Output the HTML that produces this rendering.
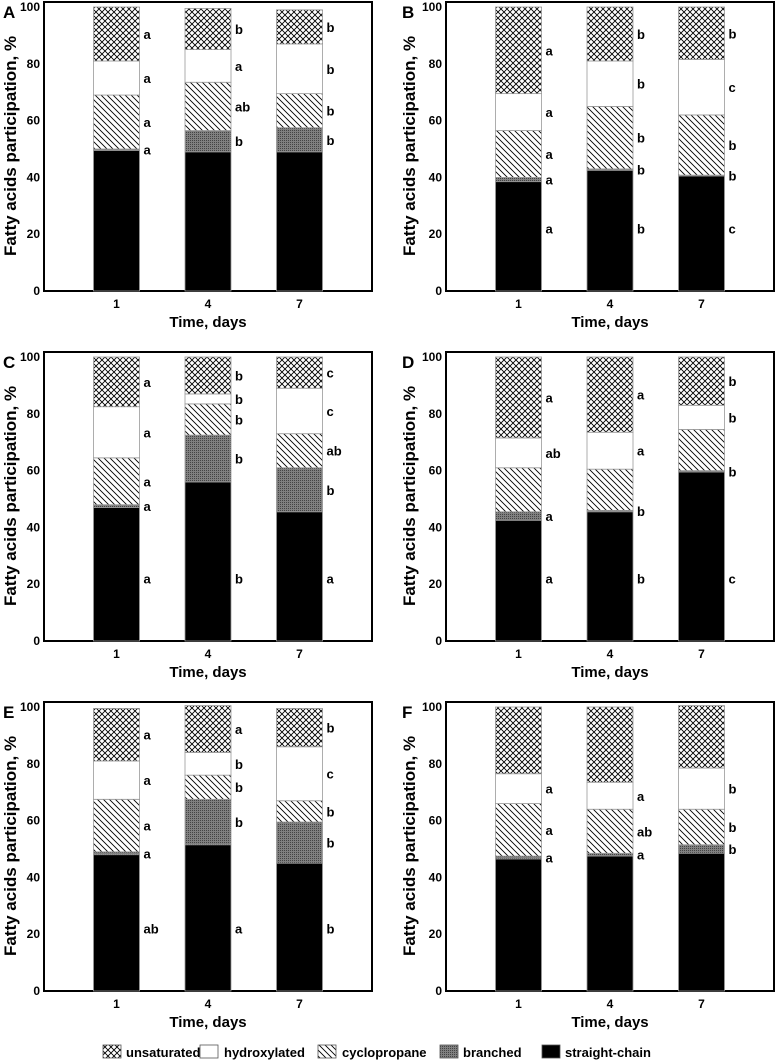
<!DOCTYPE html>
<html><head><meta charset="utf-8"><style>
html,body{margin:0;padding:0;background:#fff;}
svg{display:block;font-family:"Liberation Sans",Arial,sans-serif;font-weight:bold;}
</style></head><body>
<svg id="chart" width="775" height="1062" viewBox="0 0 775 1062" xmlns="http://www.w3.org/2000/svg">
<defs>
<pattern id="pCross" width="6" height="6" patternUnits="userSpaceOnUse">
<rect width="6" height="6" fill="#fff"/>
<path d="M0,0L6,6M6,0L0,6" stroke="#000" stroke-width="0.9"/>
</pattern>
<pattern id="pDiag" width="6" height="6" patternUnits="userSpaceOnUse">
<rect width="6" height="6" fill="#fff"/>
<path d="M0,0L6,6M-3,3L3,9M3,-3L9,3" stroke="#000" stroke-width="0.9"/>
</pattern>
<pattern id="pBranch" width="2" height="2" patternUnits="userSpaceOnUse">
<rect width="2" height="2" fill="#808080"/>
<rect width="1" height="1" fill="#444"/>
</pattern>
</defs>
<g id="panels"></g>
<g id="legend"></g>
</svg>
<script>
// Data: segment percentages per bar (days 1, 4, 7), per panel
const categories = ['1', '4', '7'];
const panelNames = ['A', 'B', 'C', 'D', 'E', 'F'];
const seriesNames = ['straight-chain', 'branched', 'cyclopropane', 'hydroxylated', 'unsaturated'];
const yTicks = [0, 20, 40, 60, 80, 100];

const straightA = [49.5, 49, 49];   const branchedA = [0.5, 7.5, 8.5];  const cycloA = [19, 17, 12];     const hydroxyA = [12, 11.5, 17.5]; const unsatA = [19, 14.5, 12];
const straightB = [38.5, 42.5, 40.5]; const branchedB = [1.5, 0.5, 0.3]; const cycloB = [16.5, 22, 21.2]; const hydroxyB = [13, 16, 19.5]; const unsatB = [30.5, 19, 18.5];
const straightC = [47, 56, 45.5];   const branchedC = [1, 16.5, 15.5];  const cycloC = [16.5, 11, 12];   const hydroxyC = [18, 3.5, 16];   const unsatC = [17.5, 13, 11];
const straightD = [42.5, 45.5, 59.5]; const branchedD = [3, 0.5, 0.5];  const cycloD = [15.5, 14.5, 14.5]; const hydroxyD = [10.5, 13, 8.5]; const unsatD = [28.5, 26.5, 17];
const straightE = [48, 51.5, 45];   const branchedE = [1, 16, 14.5];    const cycloE = [18.5, 8.5, 7.5]; const hydroxyE = [13.5, 8, 19];  const unsatE = [18.5, 16.5, 13.5];
const straightF = [46.5, 47.5, 48.5]; const branchedF = [1, 1, 3];      const cycloF = [18.5, 15.5, 12.5]; const hydroxyF = [10.5, 9.5, 14.5]; const unsatF = [23.5, 26.5, 22];

// Significance letters [bar][segment: straight, branched, cyclo, hydroxy, unsat]
const lettersA = [['', 'a', 'a', 'a', 'a'], ['', 'b', 'ab', 'a', 'b'], ['', 'b', 'b', 'b', 'b']];
const lettersB = [['a', 'a', 'a', 'a', 'a'], ['b', 'b', 'b', 'b', 'b'], ['c', 'b', 'b', 'c', 'b']];
const lettersC = [['a', 'a', 'a', 'a', 'a'], ['b', 'b', 'b', 'b', 'b'], ['a', 'b', 'ab', 'c', 'c']];
const lettersD = [['a', 'a', '', 'ab', 'a'], ['b', 'b', '', 'a', 'a'], ['c', 'b', '', 'b', 'b']];
const lettersE = [['ab', 'a', 'a', 'a', 'a'], ['a', 'b', 'b', 'b', 'a'], ['b', 'b', 'b', 'c', 'b']];
const lettersF = [['', 'a', 'a', 'a', ''], ['', 'a', 'ab', 'a', ''], ['', 'b', 'b', 'b', '']];

const panelData = [
  [straightA, branchedA, cycloA, hydroxyA, unsatA],
  [straightB, branchedB, cycloB, hydroxyB, unsatB],
  [straightC, branchedC, cycloC, hydroxyC, unsatC],
  [straightD, branchedD, cycloD, hydroxyD, unsatD],
  [straightE, branchedE, cycloE, hydroxyE, unsatE],
  [straightF, branchedF, cycloF, hydroxyF, unsatF]
];
const panelLetters = [lettersA, lettersB, lettersC, lettersD, lettersE, lettersF];

const NS = 'http://www.w3.org/2000/svg';
const fills = ['#000', 'url(#pBranch)', 'url(#pDiag)', '#fff', 'url(#pCross)'];
function mk(tag, attrs, parent) {
  const e = document.createElementNS(NS, tag);
  for (const k in attrs) e.setAttribute(k, attrs[k]);
  parent.appendChild(e);
  return e;
}
const root = document.getElementById('panels');
const zeroYs = [291, 641, 991];
const frameLefts = [44, 446];
const frameRights = [372, 774];

panelData.forEach((series, p) => {
  const row = Math.floor(p / 2), col = p % 2;
  const y0 = zeroYs[row], fl = frameLefts[col], fr = frameRights[col];
  const yScale = v => y0 - v * 2.84;
  const xCenter = i => fl + 72.5 + i * 91.5;
  const bw = 46;
  const g = mk('g', {}, root);
  
  
  const fr_ = mk('rect', {x: fl, y: y0 - 289, width: fr - fl, height: 289, fill: 'none', stroke: '#000', 'stroke-width': 2}, g);
  
  
  const pl = mk('text', {x: col ? 402 : 3, y: y0 - 273, 'font-size': 17}, g);
  pl.textContent = panelNames[p];
  
  
  yTicks.forEach(t => {
    const tl = mk('text', {x: fl - 4, y: yScale(t) + 4, 'font-size': 12, 'text-anchor': 'end'}, g);
    tl.textContent = t;
    
    
  });
  const cy = yScale(50) - 3;
  const yt = mk('text', {x: 0, y: 0, 'font-size': 17, 'text-anchor': 'middle', transform: 'translate(' + (col ? 415 : 16) + ',' + cy + ') rotate(-90)'}, g);
  yt.textContent = 'Fatty acids participation, %';
  
  
  categories.forEach((c, i) => {
    const xl = mk('text', {x: xCenter(i), y: y0 + 17, 'font-size': 12, 'text-anchor': 'middle'}, g);
    xl.textContent = c;
    
    
  });
  const xt = mk('text', {x: xCenter(1), y: y0 + 36, 'font-size': 15, 'text-anchor': 'middle'}, g);
  xt.textContent = 'Time, days';
  
  
  categories.forEach((c, i) => {
    let cum = 0;
    series.forEach((s, k) => {
      const v = s[i];
      const top = cum + v;
      const r = mk('rect', {x: xCenter(i) - bw / 2, y: yScale(top), width: bw, height: Math.max(0, yScale(cum) - yScale(top)), fill: fills[k], stroke: '#999', 'stroke-width': 0.8}, g);
      
      
      const lt = panelLetters[p][i][k];
      if (lt) {
        const ly = k === 0 ? 22 : (cum + top) / 2;
        const t = mk('text', {x: xCenter(i) + bw / 2 + 4, y: yScale(ly) + 5, 'font-size': 13}, g);
        t.textContent = lt;
        
        
      }
      cum = top;
    });
  });
});

const leg = document.getElementById('legend');
const legItems = [['unsaturated', 4, 103, 126], ['hydroxylated', 3, 200, 224], ['cyclopropane', 2, 318, 342], ['branched', 1, 440, 463], ['straight-chain', 0, 542, 565]];
legItems.forEach(it => {
  const b = mk('rect', {x: it[2], y: 1045, width: 18, height: 13, fill: fills[it[1]], stroke: '#555', 'stroke-width': 0.8}, leg);
  
  
  const t = mk('text', {x: it[3], y: 1057, 'font-size': 13}, leg);
  t.textContent = it[0];
  
  
});
</script>
</body></html>
